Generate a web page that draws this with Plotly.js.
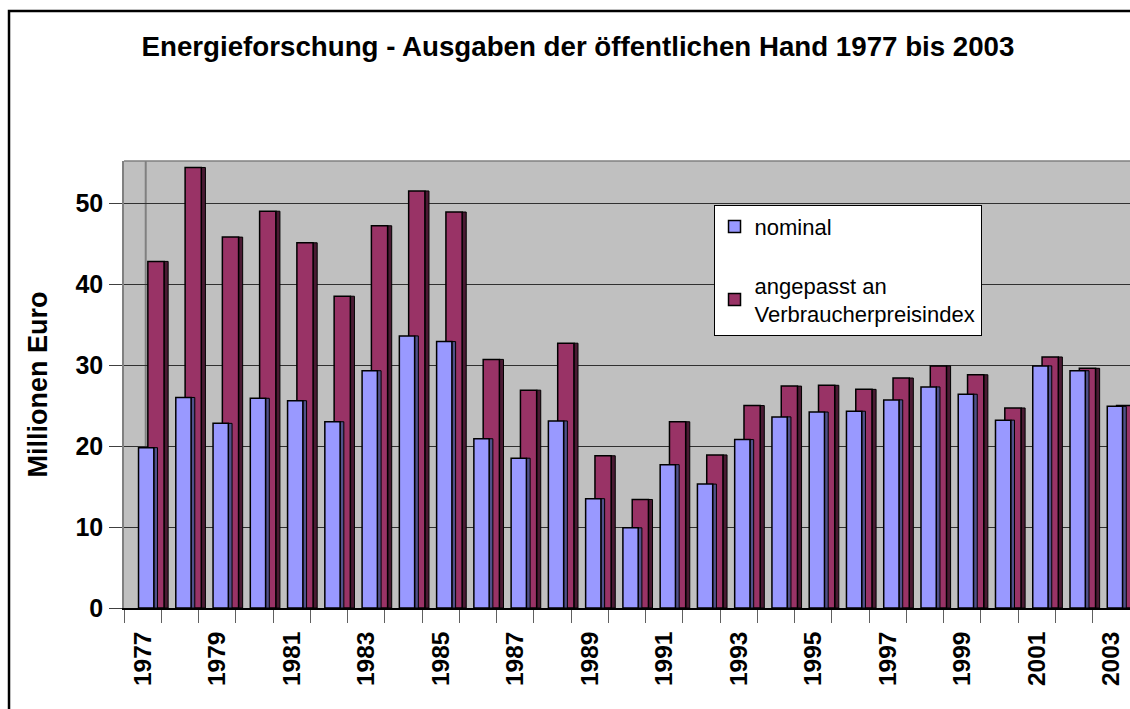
<!DOCTYPE html>
<html>
<head>
<meta charset="utf-8">
<script src="https://cdn.plot.ly/plotly-3.0.1.min.js"></script>
<style>
html, body { margin: 0; padding: 0; background: #ffffff; }
#chart { width: 1130px; height: 709px; }
</style>
</head>
<body>
<div id="chart"></div>
<script>
// Data (Millionen Euro)
const years = [1977, 1978, 1979, 1980, 1981, 1982, 1983, 1984, 1985, 1986, 1987, 1988, 1989, 1990,
               1991, 1992, 1993, 1994, 1995, 1996, 1997, 1998, 1999, 2000, 2001, 2002, 2003];
const nominal = [19.8, 26.0, 22.8, 25.9, 25.6, 23.0, 29.3, 33.6, 32.9, 20.9, 18.5, 23.1, 13.5, 9.9,
                 17.7, 15.3, 20.8, 23.6, 24.2, 24.3, 25.7, 27.3, 26.4, 23.2, 29.9, 29.3, 24.9];
const adjusted = [42.8, 54.4, 45.8, 49.0, 45.1, 38.5, 47.2, 51.5, 48.9, 30.7, 26.9, 32.7, 18.8, 13.4,
                  23.0, 18.9, 25.0, 27.4, 27.5, 27.0, 28.4, 29.9, 28.8, 24.7, 31.0, 29.6, 25.0];
const tickLabels = ['1977', '', '1979', '', '1981', '', '1983', '', '1985', '', '1987', '', '1989', '',
                    '1991', '', '1993', '', '1995', '', '1997', '', '1999', '', '2001', '', '2003'];
const yTicks = [0, 10, 20, 30, 40, 50];

const nameNominal = 'nominal';
const nameAdjusted = 'angepasst an<br>Verbraucherpreisindex';

const FONT = 'Liberation Sans, Arial, sans-serif';

const traces = [
  { // adjusted - side face
    type: 'bar', x: years, y: adjusted, offset: 0.575, width: 0.11,
    marker: { color: '#4a1a33', line: { color: '#000000', width: 1 } },
    showlegend: false, hoverinfo: 'skip', legendgroup: 'b'
  },
  { // adjusted - front face
    type: 'bar', x: years, y: adjusted, offset: 0.14, width: 0.435, name: nameAdjusted,
    marker: { color: '#993366', line: { color: '#000000', width: 1.5 } },
    legendgroup: 'b', legendrank: 2
  },
  { // nominal - side face
    type: 'bar', x: years, y: nominal, offset: 0.30, width: 0.10,
    marker: { color: '#50508a', line: { color: '#000000', width: 1 } },
    showlegend: false, hoverinfo: 'skip', legendgroup: 'a'
  },
  { // nominal - front face
    type: 'bar', x: years, y: nominal, offset: -0.11, width: 0.41, name: nameNominal,
    marker: { color: '#9999ff', line: { color: '#000000', width: 1.5 } },
    legendgroup: 'a', legendrank: 1
  }
];

const layout = {
  width: 1130, height: 709,
  margin: { l: 124, r: 0, t: 161, b: 101, pad: 0 },
  paper_bgcolor: '#ffffff',
  plot_bgcolor: '#c0c0c0',
  barmode: 'overlay',
  font: { family: FONT, color: '#000000' },
  title: {
    text: '<b>Energieforschung - Ausgaben der öffentlichen Hand 1977 bis 2003</b>',
    font: { family: FONT, size: 27.7, color: '#000000' },
    x: 0.5115, xref: 'container', xanchor: 'center',
    y: 0.934, yref: 'container', yanchor: 'middle'
  },
  xaxis: {
    type: 'category',
    range: [-0.5, 26.5],
    tickmode: 'array', tickvals: years, ticktext: tickLabels,
    tickson: 'boundaries',
    ticks: 'outside', ticklen: 13, tickwidth: 1, tickcolor: '#606060',
    tickangle: -90,
    tickfont: { family: FONT, size: 24.5, color: '#000000', weight: 'bold' },
    ticklabelstandoff: 12,
    showgrid: false, zeroline: false,
    showline: true, linecolor: '#000000', linewidth: 1.5,
    fixedrange: true
  },
  yaxis: {
    range: [0, 55.2],
    tickmode: 'array', tickvals: yTicks, ticktext: yTicks.map(String),
    ticks: 'outside', ticklen: 13, tickwidth: 1, tickcolor: '#404040',
    tickfont: { family: FONT, size: 25, color: '#000000', weight: 'bold' },
    ticklabelstandoff: 1,
    showgrid: true, gridcolor: '#303030', gridwidth: 1,
    zeroline: false,
    showline: true, linecolor: '#808080', linewidth: 1.5,
    title: {
      text: '<b>Millionen Euro</b>',
      font: { family: FONT, size: 27, color: '#000000' },
      standoff: 20
    },
    fixedrange: true
  },
  legend: {
    x: 0.586, xanchor: 'left', y: 0.902, yanchor: 'top',
    bgcolor: '#ffffff', bordercolor: '#000000', borderwidth: 1,
    font: { family: FONT, size: 22, color: '#000000' },
    tracegroupgap: 27,
    traceorder: 'grouped',
    itemclick: false, itemdoubleclick: false
  },
  shapes: [
    // back wall edge
    { type: 'line', xref: 'paper', yref: 'paper', x0: 0.0216, x1: 0.0216, y0: 0, y1: 1,
      line: { color: '#808080', width: 2 }, layer: 'below' },
    // top border of plot area
    { type: 'line', xref: 'paper', yref: 'paper', x0: 0, x1: 1, y0: 1, y1: 1,
      line: { color: '#808080', width: 1.5 } },
    // outer chart border
    { type: 'rect', xref: 'paper', yref: 'paper', x0: -0.1143, x1: 1.2, y0: -0.6, y1: 1.3356,
      line: { color: '#000000', width: 2.5 }, fillcolor: 'rgba(0,0,0,0)' }
  ]
};

Plotly.newPlot('chart', traces, layout, { displayModeBar: false, staticPlot: false });
</script>
</body>
</html>
